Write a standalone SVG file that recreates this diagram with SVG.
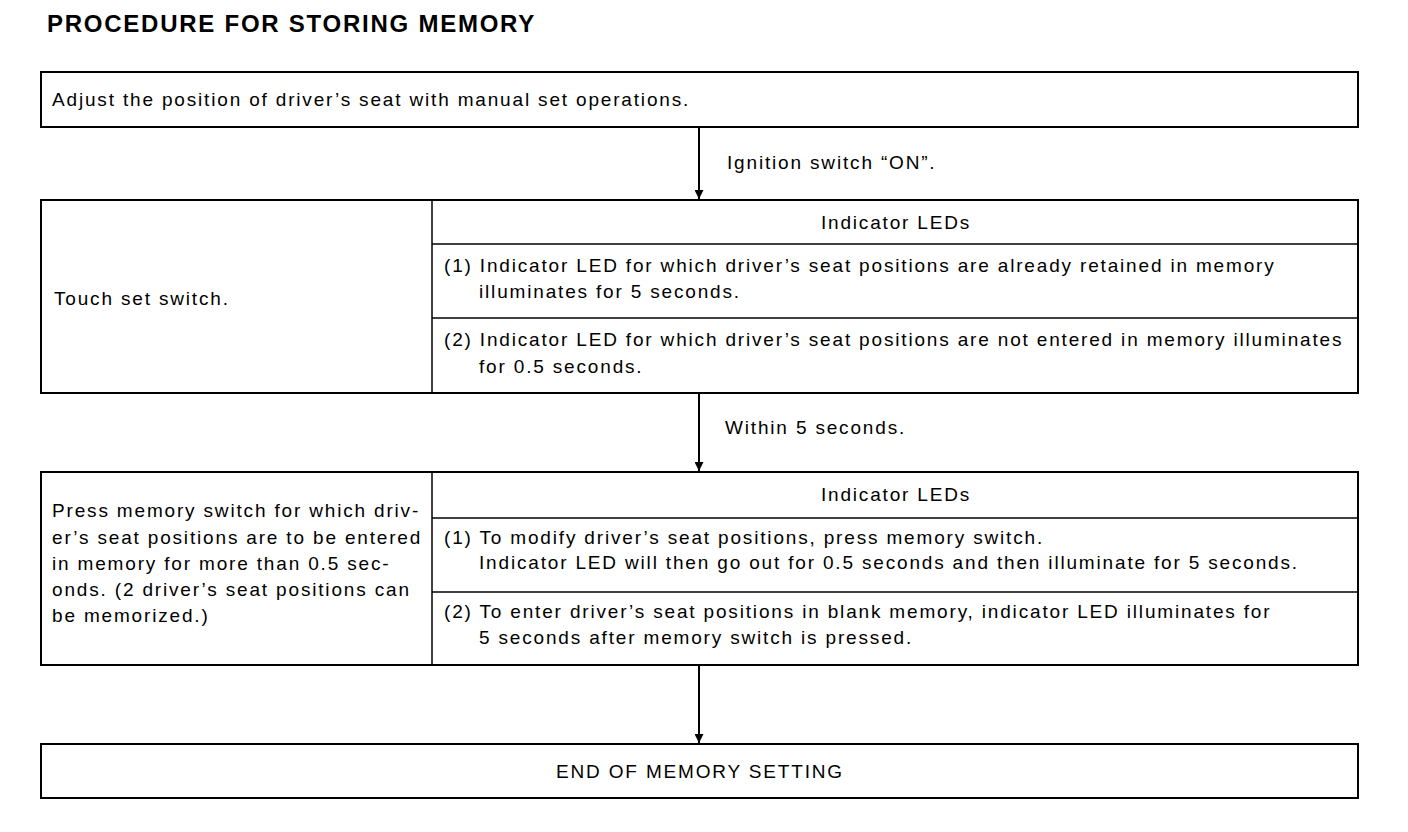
<svg xmlns="http://www.w3.org/2000/svg" width="1408" height="832" viewBox="0 0 1408 832">
<defs>
<marker id="ah" viewBox="0 0 10 10" refX="10" refY="5" markerWidth="9" markerHeight="9" markerUnits="userSpaceOnUse" orient="auto">
<path d="M0,0 L10,5 L0,10 Z" fill="#000"/>
</marker>
</defs>
<style>
text{font-family:"Liberation Sans",Arial,sans-serif;font-size:19px;fill:#000;letter-spacing:1.83px}
.title{font-size:24px;font-weight:bold;letter-spacing:1.75px}
.c{text-anchor:middle}
.box{fill:#fff;stroke:#000;stroke-width:2}
.ln{stroke:#000;stroke-width:1.5;fill:none}
.conn{stroke:#000;stroke-width:2;fill:none;marker-end:url(#ah)}
</style>
<rect width="1408" height="832" fill="#fff"/>
<text class="title" x="47" y="32">PROCEDURE FOR STORING MEMORY</text>
<g id="connectors">
<line class="conn" x1="699" y1="127" x2="699" y2="199"/>
<line class="conn" x1="699" y1="393" x2="699" y2="471"/>
<line class="conn" x1="699" y1="665" x2="699" y2="743"/>
<text x="727" y="169">Ignition switch “ON”.</text>
<text x="725" y="434">Within 5 seconds.</text>
</g>
<g id="n1">
<rect class="box" x="41" y="72" width="1317" height="55"/>
<text x="52" y="106">Adjust the position of driver’s seat with manual set operations.</text>
</g>
<g id="n2">
<rect class="box" x="41" y="200" width="1317" height="193"/>
<line class="ln" x1="432" y1="200" x2="432" y2="393"/>
<line class="ln" x1="432" y1="244" x2="1358" y2="244"/>
<line class="ln" x1="432" y1="318" x2="1358" y2="318"/>
<text x="54" y="305">Touch set switch.</text>
<text class="c" x="896" y="229">Indicator LEDs</text>
<text x="444" y="272">(1) Indicator LED for which driver’s seat positions are already retained in memory</text>
<text x="479" y="298">illuminates for 5 seconds.</text>
<text x="444" y="346">(2) Indicator LED for which driver’s seat positions are not entered in memory illuminates</text>
<text x="479" y="373">for 0.5 seconds.</text>
</g>
<g id="n3">
<rect class="box" x="41" y="472" width="1317" height="193"/>
<line class="ln" x1="432" y1="472" x2="432" y2="665"/>
<line class="ln" x1="432" y1="518" x2="1358" y2="518"/>
<line class="ln" x1="432" y1="592" x2="1358" y2="592"/>
<text x="52" y="517">Press memory switch for which driv-</text>
<text x="52" y="544">er’s seat positions are to be entered</text>
<text x="52" y="570">in memory for more than 0.5 sec-</text>
<text x="52" y="596">onds. (2 driver’s seat positions can</text>
<text x="52" y="622">be memorized.)</text>
<text class="c" x="896" y="501">Indicator LEDs</text>
<text x="444" y="544">(1) To modify driver’s seat positions, press memory switch.</text>
<text x="479" y="569">Indicator LED will then go out for 0.5 seconds and then illuminate for 5 seconds.</text>
<text x="444" y="618">(2) To enter driver’s seat positions in blank memory, indicator LED illuminates for</text>
<text x="479" y="644">5 seconds after memory switch is pressed.</text>
</g>
<g id="n4">
<rect class="box" x="41" y="744" width="1317" height="54"/>
<text class="c" x="700" y="778">END OF MEMORY SETTING</text>
</g>
</svg>
